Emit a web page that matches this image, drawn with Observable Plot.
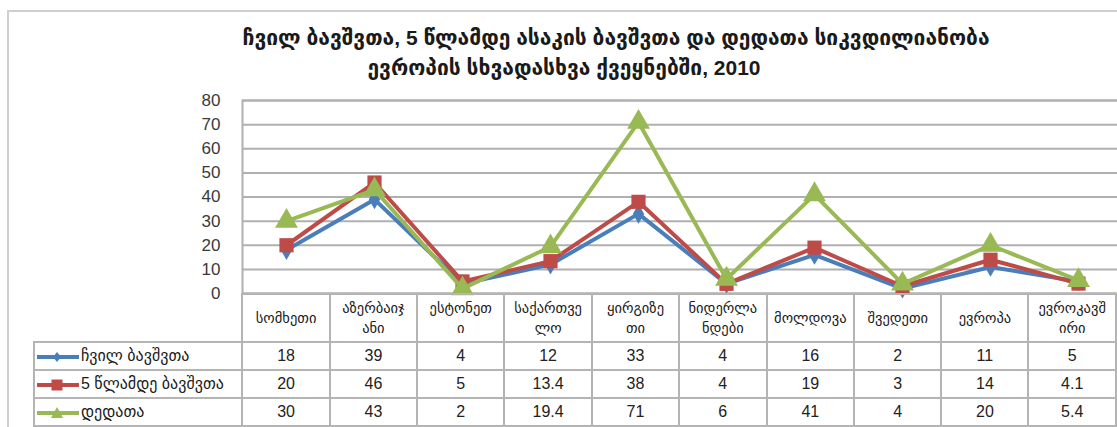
<!DOCTYPE html>
<html>
<head>
<meta charset="utf-8">
<script src="https://cdn.jsdelivr.net/npm/d3@7"></script>
<script src="https://cdn.jsdelivr.net/npm/@observablehq/plot@0.6"></script>
<style>
  html, body { margin: 0; padding: 0; background: #fff; overflow: hidden; }
  #wrap { position: relative; width: 1117px; height: 427px; overflow: hidden; background: #fff;
          font-family: "Liberation Sans", "DejaVu Sans", sans-serif; }
  #border { position: absolute; left: 7px; top: 10px; width: 1200px; height: 500px;
            border-left: 2px solid #cfcfcf; border-top: 2px solid #cfcfcf; box-sizing: border-box; }
  .title { position: absolute; white-space: nowrap; transform: translateX(-50%);
           font-weight: bold; font-size: 21px; color: #1a1a1a; }
  #chart { position: absolute; left: 0; top: 0; width: 1125px; }
  #chart svg { max-width: none !important; }
  #tbl { position: absolute; left: 33px; top: 293px; border-collapse: collapse; table-layout: fixed; }
  #tbl td { border: 2px solid #b4b4b4; padding: 0; text-align: center; color: #222; }
  #tbl tr.head td { height: 46px; font-size: 14.5px; line-height: 20px; color: #1a1a1a; }
  #tbl tr.head td.blank { border: none; border-right: 2px solid #b4b4b4; }
  #tbl tr.row td { height: 26px; font-size: 16px; }
  #tbl td.leg { text-align: left; font-size: 13.5px; white-space: nowrap; color: #1a1a1a; }
  #tbl td.leg svg { vertical-align: middle; margin-right: 0px; }
</style>
</head>
<body>
<div id="wrap">
  <div id="border"></div>
  <div id="chart"></div>
  <div class="title" id="t1" style="left:616px; top:26px;"></div>
  <div class="title" id="t2" style="left:564px; top:56px;"></div>
  <table id="tbl"></table>
</div>
<script>
// ---- data ----
const titleLines = [
  "ჩვილ ბავშვთა, 5 წლამდე ასაკის ბავშვთა და დედათა სიკვდილიანობა",
  "ევროპის სხვადასხვა ქვეყნებში, 2010"
];
const categories = ["სომხეთი", "აზერბაიჯანი", "ესტონეთი", "საქართველო", "ყირგიზეთი",
                    "ნიდერლანდები", "მოლდოვა", "შვედეთი", "ევროპა", "ევროკავშირი"];
const categoryLabels = ["სომხეთი", "აზერბაიჯ\nანი", "ესტონეთ\nი", "საქართვე\nლო", "ყირგიზე\nთი",
                        "ნიდერლა\nნდები", "მოლდოვა", "შვედეთი", "ევროპა", "ევროკავშ\nირი"];
const seriesNames = ["ჩვილ ბავშვთა", "5 წლამდე ბავშვთა", "დედათა"];
const infant = [18, 39, 4, 12, 33, 4, 16, 2, 11, 5];
const underFive = [20, 46, 5, 13.4, 38, 4, 19, 3, 14, 4.1];
const maternal = [30, 43, 2, 19.4, 71, 6, 41, 4, 20, 5.4];
const yTicks = [0, 10, 20, 30, 40, 50, 60, 70, 80];

const seriesValues = [infant, underFive, maternal];
const seriesColors = ["#4a7ebb", "#be4b48", "#98b954"];
const seriesSymbols = ["diamond", "square", "triangle"];
const seriesR = [6, 8, 8.5];

document.getElementById("t1").textContent = titleLines[0];
document.getElementById("t2").textContent = titleLines[1];

const rows = seriesNames.map((s, i) => categories.map((c, j) => ({series: s, country: c, value: seriesValues[i][j]})));

const marks = [
  Plot.ruleY(yTicks, {stroke: "#b0b0b0", strokeWidth: 2}),
  Plot.frame({stroke: "#b0b0b0", strokeWidth: 2})
];
rows.forEach((r, i) => {
  marks.push(Plot.line(r, {x: "country", y: "value", stroke: seriesColors[i], strokeWidth: 4, strokeLinejoin: "miter"}));
  marks.push(Plot.dot(r, {x: "country", y: "value", symbol: seriesSymbols[i], fill: seriesColors[i], stroke: "none", r: seriesR[i]}));
});

const chart = Plot.plot({
  width: 1125,
  height: 427,
  marginLeft: 242,
  marginRight: 3,
  marginTop: 100,
  marginBottom: 134,
  style: {fontSize: "17px", fontFamily: "Liberation Sans, sans-serif", color: "#3a3a3a", background: "transparent", overflow: "visible", maxWidth: "none"},
  x: {type: "band", domain: categories, padding: 0, axis: null},
  y: {domain: [0, 80], ticks: yTicks, tickSize: 0, tickPadding: 22, label: null},
  marks
});
document.getElementById("chart").appendChild(chart);

// ---- data table ----
const tbl = document.getElementById("tbl");
const cg = document.createElement("colgroup");
cg.innerHTML = `<col style="width:209px">` + categories.map(() => `<col style="width:88px">`).join("");
tbl.appendChild(cg);
const head = document.createElement("tr");
head.className = "head";
head.innerHTML = `<td class="blank"></td>` + categoryLabels.map(l => `<td>${l.split("\n").join("<br>")}</td>`).join("");
tbl.appendChild(head);
const swatchPath = {
  diamond: "M22,4 L26,9 L22,14 L18,9 Z",
  square: "M16.5,3.5 H27.5 V14.5 H16.5 Z",
  triangle: "M22,3 L28,14 L16,14 Z"
};
seriesNames.forEach((s, i) => {
  const tr = document.createElement("tr");
  tr.className = "row";
  const sw = `<svg width="46" height="18"><line x1="2" x2="44" y1="9" y2="9" stroke="${seriesColors[i]}" stroke-width="4"/><path d="${swatchPath[seriesSymbols[i]]}" fill="${seriesColors[i]}"/></svg>`;
  tr.innerHTML = `<td class="leg">${sw}${s}</td>` + seriesValues[i].map(v => `<td>${v}</td>`).join("");
  tbl.appendChild(tr);
});
</script>
</body>
</html>
